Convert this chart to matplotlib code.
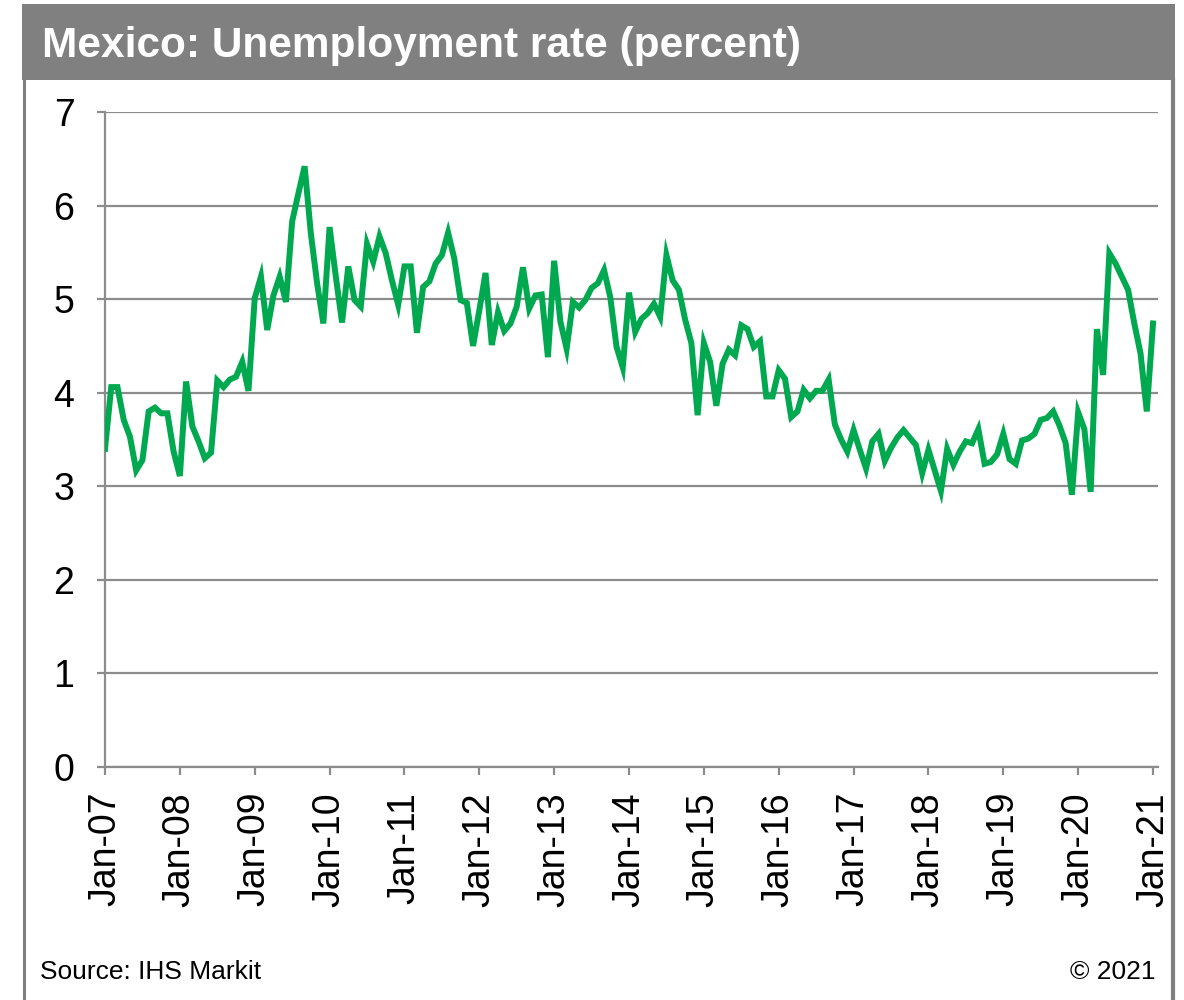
import numpy as np
import pandas as pd
import matplotlib
matplotlib.use("Agg")
import matplotlib.pyplot as plt
from matplotlib.patches import Rectangle
from matplotlib.lines import Line2D

plt.rcParams['font.family'] = ['Liberation Sans', 'DejaVu Sans']

# monthly unemployment rate, Jan 2007 .. Jan 2021
months = pd.date_range("2007-01-01", "2021-01-01", freq="MS")
rate = [
    3.40, 4.06, 4.06, 3.71, 3.53, 3.17, 3.28, 3.80, 3.84, 3.78, 3.78, 3.37,  # 2007
    3.11, 4.12, 3.64, 3.48, 3.30, 3.36, 4.13, 4.06, 4.14, 4.17, 4.33, 4.02,  # 2008
    5.01, 5.24, 4.67, 5.04, 5.24, 4.97, 5.83, 6.13, 6.42, 5.70, 5.17, 4.74,  # 2009
    5.77, 5.24, 4.75, 5.35, 4.99, 4.92, 5.59, 5.40, 5.67, 5.49, 5.20, 4.94,  # 2010
    5.35, 5.35, 4.64, 5.13, 5.19, 5.38, 5.47, 5.71, 5.43, 4.99, 4.96, 4.50,  # 2011
    4.88, 5.28, 4.51, 4.86, 4.66, 4.74, 4.92, 5.34, 4.90, 5.04, 5.05, 4.38,  # 2012
    5.41, 4.76, 4.47, 4.97, 4.91, 4.99, 5.12, 5.17, 5.31, 5.02, 4.49, 4.27,  # 2013
    5.07, 4.65, 4.79, 4.85, 4.95, 4.81, 5.47, 5.20, 5.10, 4.78, 4.53, 3.76,  # 2014
    4.53, 4.33, 3.86, 4.31, 4.46, 4.40, 4.72, 4.68, 4.49, 4.55, 3.96, 3.96,  # 2015
    4.24, 4.15, 3.74, 3.80, 4.03, 3.94, 4.02, 4.02, 4.14, 3.66, 3.50, 3.37,  # 2016
    3.60, 3.39, 3.19, 3.48, 3.56, 3.27, 3.41, 3.52, 3.60, 3.52, 3.44, 3.14,  # 2017
    3.39, 3.17, 2.95, 3.40, 3.23, 3.37, 3.48, 3.46, 3.61, 3.24, 3.26, 3.34,  # 2018
    3.56, 3.29, 3.24, 3.49, 3.51, 3.56, 3.71, 3.73, 3.80, 3.65, 3.46, 2.91,  # 2019
    3.79, 3.61, 2.94, 4.68, 4.19, 5.49, 5.38, 5.24, 5.10, 4.74, 4.42, 3.80,  # 2020
    4.74,                                                                    # 2021
]
yticks = [0, 1, 2, 3, 4, 5, 6, 7]

title = "Mexico: Unemployment rate (percent)"
source = "Source: IHS Markit"
copyright_note = "\u00a9 2021"

GREEN = "#00a94f"
GREY = "#808080"
GRID = "#8c8c8c"

W, H = 1184, 1000
fig = plt.figure(figsize=(W / 100, H / 100), dpi=100)


def fx(px):
    return px / W


def fy(py):
    return 1 - py / H


# header bar and side borders
fig.add_artist(Rectangle((fx(22), fy(80)), fx(1175 - 22), fy(4) - fy(80),
                         transform=fig.transFigure, facecolor=GREY,
                         edgecolor="none", zorder=0))
fig.add_artist(Line2D([fx(24), fx(24)], [fy(80), 0], transform=fig.transFigure,
                      color=GREY, lw=2.2))
fig.add_artist(Line2D([fx(1173), fx(1173)], [fy(80), 0], transform=fig.transFigure,
                      color=GREY, lw=3.0))
fig.text(fx(42), fy(46), title, color="white", fontsize=30.5, fontweight="bold",
         ha="left", va="center")

ax = fig.add_axes([fx(105), fy(767), fx(1158) - fx(105), fy(112) - fy(767)])
x = np.arange(len(months))
ax.plot(x, rate, color=GREEN, lw=4.3, solid_joinstyle="miter", zorder=3)

ax.set_ylim(0, 7)
ax.set_xlim(0, 168.8)
ax.set_yticks(yticks)
ax.set_yticklabels([str(v) for v in yticks])
tick_pos = x[::12]
ax.set_xticks(tick_pos)
ax.set_xticklabels([months[i].strftime("%b-%y") for i in tick_pos], rotation=90)

ax.grid(axis="y", color=GRID, lw=1.6)
ax.set_axisbelow(True)
for side in ("top", "right"):
    ax.spines[side].set_visible(False)
for side in ("left", "bottom"):
    ax.spines[side].set_color(GRID)
    ax.spines[side].set_linewidth(1.6)
ax.tick_params(axis="both", colors=GRID, width=1.6, length=6, labelcolor="black",
               labelsize=27)
ax.tick_params(axis="y", pad=16)
ax.tick_params(axis="x", pad=12)

fig.text(fx(40), fy(972), source, fontsize=19, ha="left", va="center")
fig.text(fx(1155), fy(972), copyright_note, fontsize=19, ha="right", va="center")

fig.savefig("out.png", dpi=100, facecolor="white")
